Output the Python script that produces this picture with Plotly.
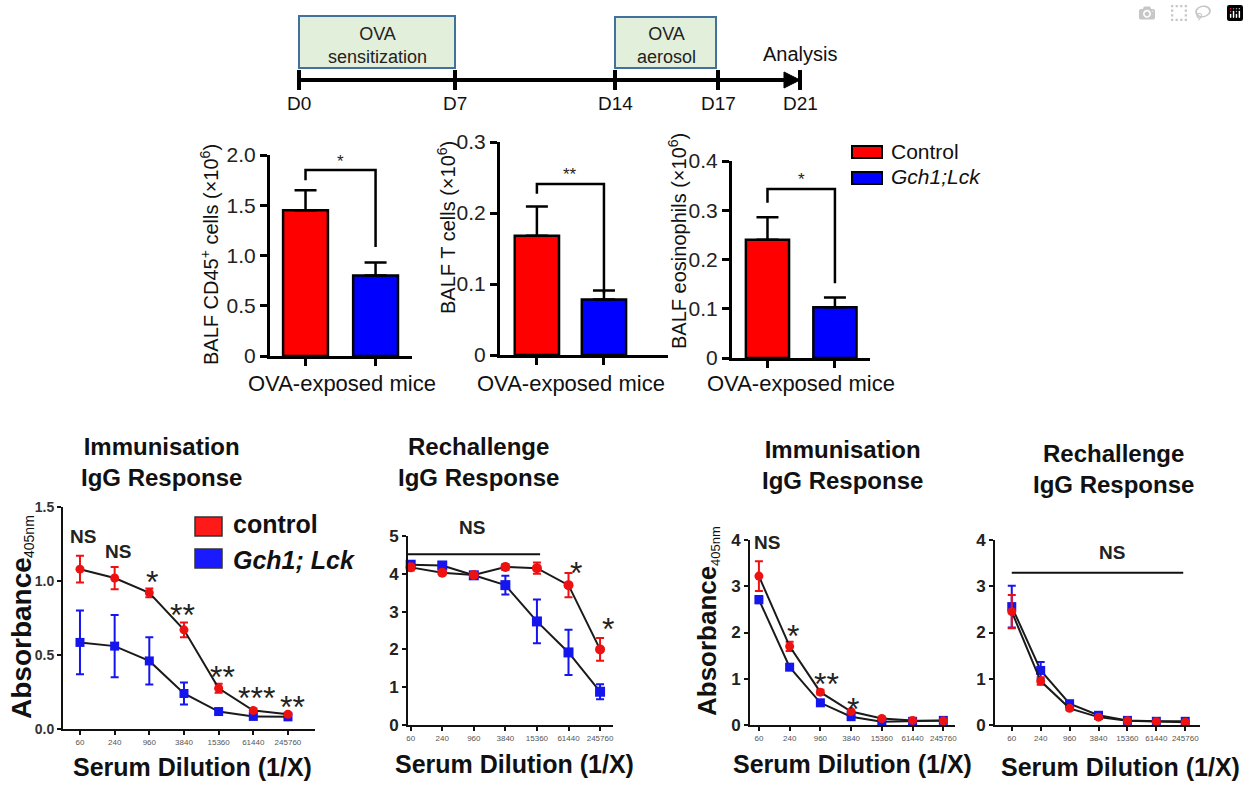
import plotly.graph_objects as go

W, H = 1249, 793


def px(x):
    return x / W


def py(y):
    return 1 - y / H


# ---------------- data ----------------
timeline_labels = ["D0", "D7", "D14", "D17", "D21"]
phase_labels = ["OVA<br>sensitization", "OVA<br>aerosol"]
end_label = "Analysis"

groups = ["Control", "Gch1;Lck"]
cd45_mean = [1.45, 0.80]
cd45_err = [0.20, 0.13]
tcell_mean = [0.168, 0.078]
tcell_err = [0.041, 0.013]
eos_mean = [0.24, 0.103]
eos_err = [0.046, 0.020]
cd45_ticks = [0, 0.5, 1.0, 1.5, 2.0]
cd45_ticktext = ["0", "0.5", "1.0", "1.5", "2.0"]
tcell_ticks = [0, 0.1, 0.2, 0.3]
tcell_ticktext = ["0", "0.1", "0.2", "0.3"]
eos_ticks = [0, 0.1, 0.2, 0.3, 0.4]
eos_ticktext = ["0", "0.1", "0.2", "0.3", "0.4"]
bar_sig = ["*", "**", "*"]

dilutions = ["60", "240", "960", "3840", "15360", "61440", "245760"]

immA_ctrl = [1.08, 1.02, 0.92, 0.67, 0.275, 0.125, 0.10]
immA_ctrl_err = [0.09, 0.075, 0.03, 0.05, 0.03, 0.012, 0.01]
immA_gch = [0.585, 0.56, 0.46, 0.24, 0.118, 0.085, 0.082]
immA_gch_err = [0.215, 0.21, 0.16, 0.075, 0.015, 0.01, 0.01]
immA_sig = ["NS", "NS", "*", "**", "**", "***", "**"]

rechB_ctrl = [4.17, 4.03, 3.97, 4.18, 4.15, 3.70, 2.00]
rechB_ctrl_err = [0.08, 0.05, 0.05, 0.08, 0.15, 0.32, 0.30]
rechB_gch = [4.24, 4.22, 3.96, 3.70, 2.74, 1.92, 0.88]
rechB_gch_err = [0.10, 0.05, 0.05, 0.25, 0.58, 0.60, 0.20]

immC_ctrl = [3.22, 1.70, 0.71, 0.29, 0.14, 0.10, 0.09]
immC_ctrl_err = [0.32, 0.10, 0.05, 0.03, 0.02, 0.01, 0.01]
immC_gch = [2.71, 1.25, 0.48, 0.18, 0.07, 0.08, 0.10]
immC_gch_err = [0.08, 0.04, 0.03, 0.02, 0.01, 0.01, 0.01]

rechD_ctrl = [2.45, 0.95, 0.36, 0.17, 0.09, 0.07, 0.06]
rechD_ctrl_err = [0.36, 0.08, 0.04, 0.03, 0.02, 0.01, 0.01]
rechD_gch = [2.56, 1.18, 0.46, 0.21, 0.10, 0.08, 0.08]
rechD_gch_err = [0.45, 0.18, 0.05, 0.04, 0.02, 0.01, 0.01]

# ---------------- style ----------------
FONT = "Liberation Sans, Arial, sans-serif"
NARROW = "Liberation Sans Narrow, Liberation Sans, Arial, sans-serif"
RED_BAR, BLUE_BAR = "#ff0000", "#0000ff"
RED_PT, BLUE_PT = "#ee1111", "#1515ee"

fig = go.Figure()
layout = dict(
    width=W, height=H, margin=dict(l=0, r=0, t=0, b=0, pad=0, autoexpand=False),
    paper_bgcolor="white", plot_bgcolor="white", showlegend=False,
    font=dict(family=FONT, color="#111"),
)
annotations = []
shapes = []


def ann(x, y, text, size, color="#1a1a1a", family=FONT, xanchor="center", angle=0,
        xref="paper", yref="paper", yanchor="middle"):
    if xref == "paper":
        x = px(x)
    if yref == "paper":
        y = py(y)
    annotations.append(dict(x=x, y=y, xref=xref, yref=yref, text=text, showarrow=False,
                            font=dict(size=size, color=color, family=family),
                            xanchor=xanchor, yanchor=yanchor, textangle=angle))


def rect_px(x0, y0, x1, y1, fill, line, lw):
    shapes.append(dict(type="rect", xref="paper", yref="paper", x0=px(x0), x1=px(x1),
                       y0=py(y1), y1=py(y0), fillcolor=fill, line=dict(color=line, width=lw)))


# ---------------- timeline (schematic) ----------------
TL_X = [299, 455, 615, 718, 800]
TL_Y = 80
shapes.append(dict(type="line", xref="paper", yref="paper", x0=px(TL_X[0]), x1=px(TL_X[-1] - 12),
                   y0=py(TL_Y), y1=py(TL_Y), line=dict(color="black", width=4)))
shapes.append(dict(type="path", xref="paper", yref="paper",
                   path="M %f %f L %f %f L %f %f Z" % (px(TL_X[-1] - 16), py(TL_Y - 8),
                                                     px(TL_X[-1]), py(TL_Y),
                                                     px(TL_X[-1] - 16), py(TL_Y + 8)),
                   fillcolor="black", line=dict(color="black", width=1)))
for xx, lab in zip(TL_X, timeline_labels):
    shapes.append(dict(type="line", xref="paper", yref="paper", x0=px(xx), x1=px(xx),
                       y0=py(TL_Y - 10), y1=py(TL_Y + 10), line=dict(color="black", width=4)))
    ann(xx, 103, lab, 19, color="#111")
rect_px(TL_X[0], 16, TL_X[1], 68, "#e2efda", "#41719c", 2)
rect_px(TL_X[2], 17, TL_X[3] - 2, 68, "#e2efda", "#41719c", 2)
ann((TL_X[0] + TL_X[1]) / 2, 45, phase_labels[0], 18, color="#222")
ann((TL_X[2] + TL_X[3]) / 2, 45, phase_labels[1], 18, color="#222")
ann(800, 54, end_label, 20, color="#111")

# ---------------- axes helper ----------------
axis_count = [0]


def new_axes(xdom, ydom, xrange, yrange, xtickvals, xticktext, ytickvals, yticktext,
             line_w, tick_w, tick_len, ytickfont, xtickfont, line_col="black", show_xlabels=True):
    axis_count[0] += 1
    i = axis_count[0]
    xn = "xaxis" if i == 1 else "xaxis%d" % i
    yn = "yaxis" if i == 1 else "yaxis%d" % i
    xr = "x" if i == 1 else "x%d" % i
    yr = "y" if i == 1 else "y%d" % i
    layout[xn] = dict(domain=[px(xdom[0]), px(xdom[1])], range=xrange, anchor=yr,
                      showline=True, linecolor=line_col, linewidth=line_w, showgrid=False,
                      zeroline=False, ticks="outside", ticklen=tick_len, tickwidth=tick_w,
                      tickcolor=line_col, tickvals=xtickvals, ticktext=xticktext,
                      showticklabels=show_xlabels, automargin=False,
                      tickfont=xtickfont, fixedrange=True)
    layout[yn] = dict(domain=[py(ydom[1]), py(ydom[0])], range=yrange, anchor=xr,
                      showline=True, linecolor=line_col, linewidth=line_w, showgrid=False,
                      zeroline=False, ticks="outside", ticklen=tick_len, tickwidth=tick_w,
                      tickcolor=line_col, tickvals=ytickvals, ticktext=yticktext,
                      automargin=False, tickfont=ytickfont, fixedrange=True)
    return xr, yr


# ---------------- bar panels ----------------
bar_tickfont = dict(family=FONT, size=21, color="#222")
bar_panels = [
    dict(means=cd45_mean, errs=cd45_err, xdom=(270, 412), ydom=(155, 356), xr=[-0.507, 1.52],
         yr=[0, 2.0], tv=cd45_ticks, tt=cd45_ticktext, width=0.64,
         br=(1.75, 1.85, 1.085), star_y=1.94, sig=bar_sig[0],
         ytitle="BALF CD45<sup>+</sup> cells (\u00d710<sup>6</sup>)", yt_pos=(210, 255), xt_x=342),
    dict(means=tcell_mean, errs=tcell_err, xdom=(500, 668), ydom=(142, 355), xr=[-0.55, 1.955],
         yr=[0, 0.3], tv=tcell_ticks, tt=tcell_ticktext, width=0.66,
         br=(0.227, 0.241, 0.087), star_y=0.254, sig=bar_sig[1],
         ytitle="BALF T cells (\u00d710<sup>6</sup>)", yt_pos=(446, 228), xt_x=571),
    dict(means=eos_mean, errs=eos_err, xdom=(732, 870), ydom=(161, 358), xr=[-0.526, 1.52],
         yr=[0, 0.4], tv=eos_ticks, tt=eos_ticktext, width=0.64,
         br=(0.315, 0.343, 0.152), star_y=0.362, sig=bar_sig[2],
         ytitle="BALF eosinophils (\u00d710<sup>6</sup>)", yt_pos=(677, 241), xt_x=801),
]
for p in bar_panels:
    xr, yr = new_axes(p["xdom"], p["ydom"], p["xr"], p["yr"], [0, 1], None, p["tv"], p["tt"],
                      3, 3, 7, bar_tickfont, bar_tickfont, show_xlabels=False)
    for k, col in enumerate([RED_BAR, BLUE_BAR]):
        fig.add_trace(go.Bar(x=[k], y=[p["means"][k]], width=p["width"], xaxis=xr, yaxis=yr,
                             name=groups[k],
                             marker=dict(color=col, line=dict(color="black", width=2.5)),
                             error_y=dict(type="data", symmetric=False, array=[p["errs"][k]],
                                          arrayminus=[0], color="black", thickness=2.5, width=11)))
    lb, top, rb = p["br"]
    shapes.append(dict(type="path", xref=xr, yref=yr,
                       path="M 0 %f L 0 %f L 1 %f L 1 %f" % (lb, top, top, rb),
                       line=dict(color="black", width=2.5)))
    ann(0.5, p["star_y"], p["sig"], 17, color="#222", xref=xr, yref=yr)
    ann(p["yt_pos"][0], p["yt_pos"][1], p["ytitle"], 20, color="#111", angle=-90)
    ann(p["xt_x"], 383, "OVA-exposed mice", 22, color="#111")

# top legend
rect_px(852, 146, 882, 158, RED_BAR, "black", 2)
rect_px(852, 172, 882, 184, BLUE_BAR, "black", 2)
ann(889, 151, groups[0], 21, color="#111", xanchor="left")
ann(889, 177, "<i>" + groups[1] + "</i>", 21, color="#111", xanchor="left")

# ---------------- line panels ----------------
xt_font = dict(family=FONT, size=8, color="#555")
idx = list(range(len(dilutions)))


def line_panel(ctrl, ctrl_err, gch, gch_err, xdom, ydom, xrng, yrng, ytv, ytt, ytfont, msize):
    xr, yr = new_axes(xdom, ydom, xrng, yrng, idx, dilutions, ytv, ytt, 2, 1.5, 4,
                      ytfont, xt_font, line_col="#111")
    fig.add_trace(go.Scatter(x=idx, y=gch, xaxis=xr, yaxis=yr, mode="lines+markers",
                             name=groups[1], cliponaxis=False,
                             line=dict(color="#1a1a1a", width=2),
                             marker=dict(symbol="square", size=msize, color=BLUE_PT),
                             error_y=dict(type="data", array=gch_err, color=BLUE_PT,
                                          thickness=2, width=4)))
    fig.add_trace(go.Scatter(x=idx, y=ctrl, xaxis=xr, yaxis=yr, mode="lines+markers",
                             name=groups[0], cliponaxis=False,
                             line=dict(color="#1a1a1a", width=2),
                             marker=dict(symbol="circle", size=msize, color=RED_PT),
                             error_y=dict(type="data", array=ctrl_err, color=RED_PT,
                                          thickness=2, width=4)))
    return xr, yr


def btick(vals):
    return ["<b>%s</b>" % v for v in vals]


STAR = 32
NSF = 19


def absorbance(x, y_end, size, sub_size):
    # "Absorbance" reads bottom-to-top and ends at y_end; subscript sits just above
    ann(x, y_end, "<b>Absorbance</b>", size, color="#111", angle=-90, yanchor="bottom")
    annotations[-1]["yanchor"] = "middle"
    annotations[-1]["xanchor"] = "center"


# Panel A
xr, yr = line_panel(immA_ctrl, immA_ctrl_err, immA_gch, immA_gch_err, (63, 315), (507, 729),
                    [-0.49, 6.78], [0, 1.5], [0, 0.5, 1.0, 1.5], btick(["0.0", "0.5", "1.0", "1.5"]),
                    dict(family=NARROW, size=14, color="#333"), 9)
sigA_pos = [(0.09, 1.30), (1.10, 1.20), (2.08, 0.99), (2.97, 0.77), (4.12, 0.35), (5.10, 0.21),
            (6.14, 0.15)]
for (sx, sy), s in zip(sigA_pos, immA_sig):
    if s == "NS":
        ann(sx, sy, "<b>NS</b>", NSF, color="#222", family=NARROW, xref=xr, yref=yr)
    else:
        ann(sx, sy, s, STAR, color="#222", xref=xr, yref=yr)
ann(162, 462, "<b>Immunisation<br>IgG Response</b>", 24, color="#111")
ann(192, 767, "<b>Serum Dilution (1/X)</b>", 25, color="#111")
ann(21, 638, "<b>Absorbance</b>", 28, color="#111", angle=-90)
ann(29, 537, "405nm", 14, color="#111", angle=-90)
rect_px(195, 517, 222, 536, "#ff1a1a", "#333", 1.5)
rect_px(195, 549, 222, 568, "#1a1aff", "#333", 1.5)
ann(231, 524, "<b>control</b>", 25, color="#111", xanchor="left")
ann(231, 560, "<b><i>Gch1; Lck</i></b>", 25, color="#111", xanchor="left")

# Panel B
xr, yr = line_panel(rechB_ctrl, rechB_ctrl_err, rechB_gch, rechB_gch_err, (408, 613), (536, 725),
                    [-0.085, 6.41], [0, 5], [0, 1, 2, 3, 4, 5], btick(["0", "1", "2", "3", "4", "5"]),
                    dict(family=NARROW, size=17, color="#222"), 10)
shapes.append(dict(type="line", xref=xr, yref=yr, x0=-0.085, x1=4.1, y0=4.52, y1=4.52,
                   line=dict(color="#111", width=2)))
ann(472, 527, "<b>NS</b>", NSF, color="#222", family=NARROW)
ann(5.24, 4.02, "*", STAR, color="#222", xref=xr, yref=yr)
ann(6.26, 2.55, "*", STAR, color="#222", xref=xr, yref=yr)
ann(478, 462, "<b>Rechallenge<br>IgG Response</b>", 24, color="#111")
ann(514, 764, "<b>Serum Dilution (1/X)</b>", 25, color="#111")

# Panel C
xr, yr = line_panel(immC_ctrl, immC_ctrl_err, immC_gch, immC_gch_err, (750, 955), (540, 725),
                    [-0.29, 6.38], [0, 4], [0, 1, 2, 3, 4], btick(["0", "1", "2", "3", "4"]),
                    dict(family=NARROW, size=17, color="#222"), 9)
ann(0.26, 3.95, "<b>NS</b>", NSF, color="#222", family=NARROW, xref=xr, yref=yr)
ann(1.10, 1.92, "*", STAR, color="#222", xref=xr, yref=yr)
ann(2.20, 0.88, "**", STAR, color="#222", xref=xr, yref=yr)
ann(3.06, 0.35, "*", STAR, color="#222", xref=xr, yref=yr)
ann(842, 465, "<b>Immunisation<br>IgG Response</b>", 24, color="#111")
ann(852, 764, "<b>Serum Dilution (1/X)</b>", 25, color="#111")
ann(707, 641, "<b>Absorbance</b>", 26, color="#111", angle=-90)
ann(715, 546, "405nm", 13, color="#111", angle=-90)

# Panel D
xr, yr = line_panel(rechD_ctrl, rechD_ctrl_err, rechD_gch, rechD_gch_err, (995, 1200), (540, 725),
                    [-0.58, 6.51], [0, 4], [0, 1, 2, 3, 4], btick(["0", "1", "2", "3", "4"]),
                    dict(family=NARROW, size=17, color="#222"), 9)
shapes.append(dict(type="line", xref=xr, yref=yr, x0=0, x1=5.93, y0=3.29, y1=3.29,
                   line=dict(color="#111", width=2)))
ann(3.47, 3.72, "<b>NS</b>", NSF, color="#222", family=NARROW, xref=xr, yref=yr)
ann(1113, 469, "<b>Rechallenge<br>IgG Response</b>", 24, color="#111")
ann(1120, 767, "<b>Serum Dilution (1/X)</b>", 25, color="#111")

layout["annotations"] = annotations
layout["shapes"] = shapes
fig.update_layout(**layout)
fig.write_html("out.html", post_script="document.body.style.margin='0';")
